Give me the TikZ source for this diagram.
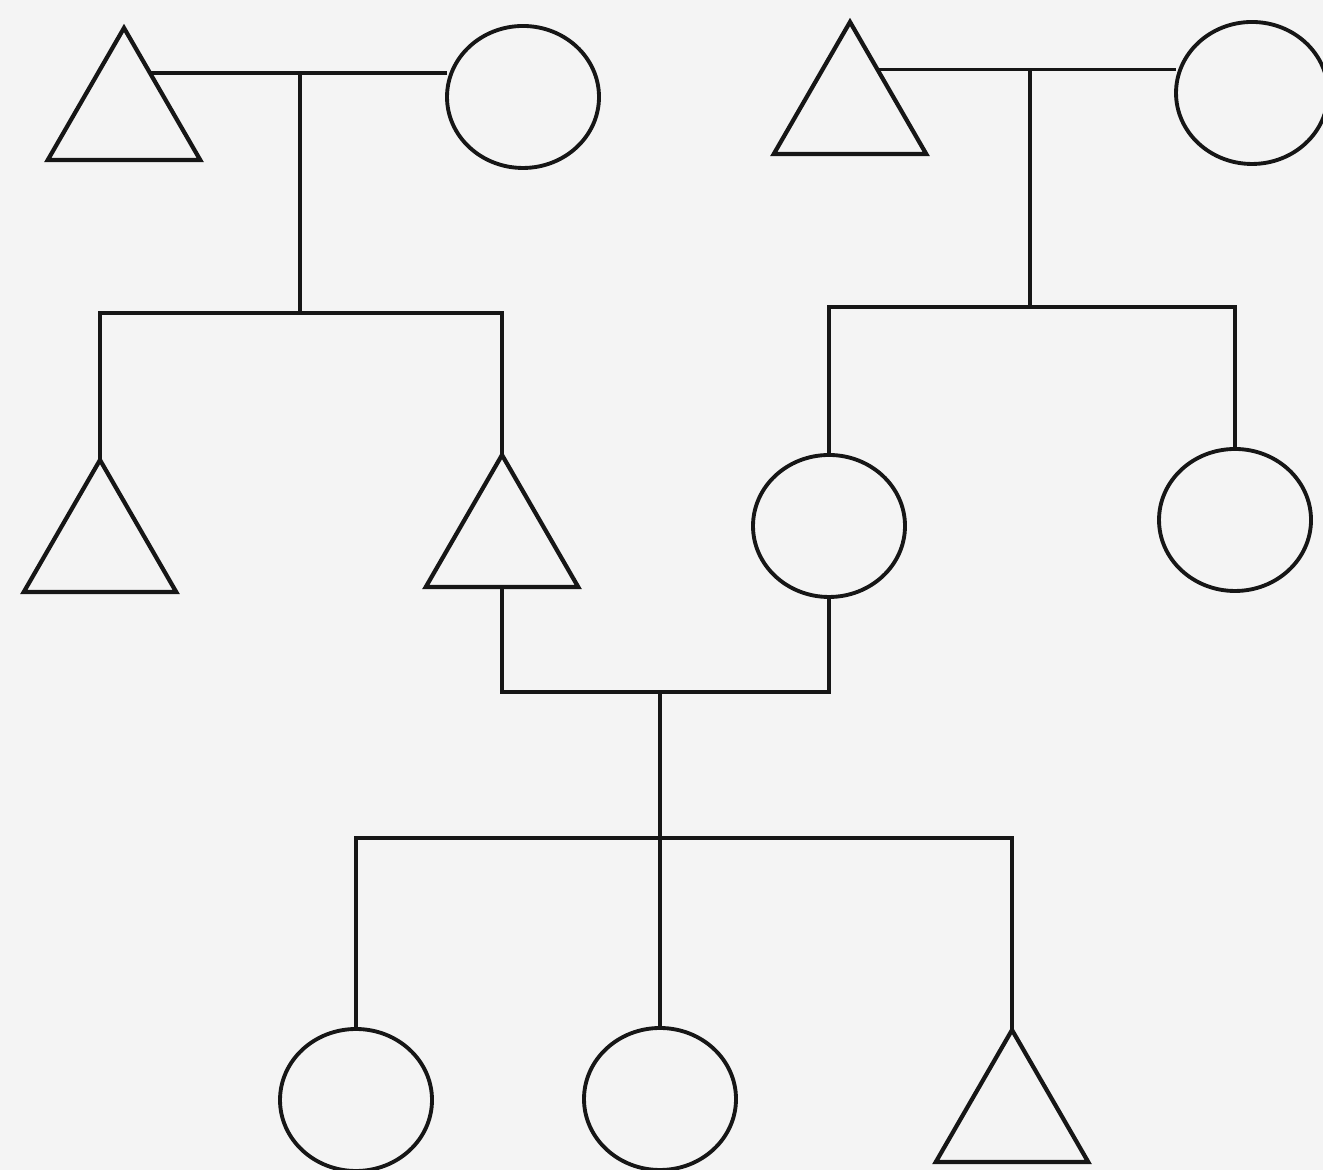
\documentclass[tikz,border=0pt]{standalone}
\usepackage{xcolor}
\usetikzlibrary{shapes.geometric, calc}
\definecolor{paper}{RGB}{244, 244, 244}
\definecolor{ink}{RGB}{22, 22, 22}
\tikzset{
    male/.style={regular polygon, regular polygon sides=3, draw=ink, line width=1.2pt, minimum size=1.76cm, inner sep=0pt, outer sep=0pt},
    female/.style={ellipse, draw=ink, line width=1.1pt, minimum width=1.52cm, minimum height=1.42cm, inner sep=0pt, outer sep=0pt},
    kin/.style={draw=ink, line width=1.1pt}
}
\begin{document}
\begin{tikzpicture}
        \fill[paper] (0,0) rectangle (13.23,11.70);
        \useasboundingbox (0,0) rectangle (13.23,11.70);

        % grandparents
        \node[male] (f1) at (1.24,10.54) {};
        \node[female] (m1) at (5.23,10.73) {};
        \node[male] (f2) at (8.50,10.60) {};
        \node[female] (m2) at (12.52,10.77) {};

        % parents and siblings
        \node[male] (c1) at (1.00,6.22) {};
        \node[male] (c2) at (5.02,6.27) {};
        \node[female] (d1) at (8.29,6.44) {};
        \node[female] (d2) at (12.35,6.50) {};

        % children
        \node[female] (g1) at (3.56,0.70) {};
        \node[female] (g2) at (6.60,0.71) {};
        \node[male] (g3) at (10.12,0.52) {};

        \coordinate (k1) at (3.00,8.57);
        \coordinate (k2) at (10.30,8.63);
        \coordinate (k3) at (6.60,4.78);
        \coordinate (k4) at (6.60,3.32);

        \draw[kin] ($(f1.corner 1)!0.34!(f1.corner 3)$) coordinate (u1) -- (u1 -| m1.west);
        \draw[kin] (k1 |- u1) -- (k1);
        \draw[kin] (c1.corner 1) -- (c1.corner 1 |- k1) -- (c2.corner 1 |- k1) -- (c2.corner 1);

        \draw[kin] ($(f2.corner 1)!0.36!(f2.corner 3)$) coordinate (u2) -- (u2 -| m2.west);
        \draw[kin] (k2 |- u2) -- (k2);
        \draw[kin] (d1.north) -- (d1.north |- k2) -- (d2.north |- k2) -- (d2.north);

        \draw[kin] (c2.south) -- (c2.south |- k3) -- (d1.south |- k3) -- (d1.south);
        \draw[kin] (k3) -- (g2.north);
        \draw[kin] (g1.north) -- (g1.north |- k4) -- (g3.corner 1 |- k4) -- (g3.corner 1);
    \end{tikzpicture}
\end{document}
